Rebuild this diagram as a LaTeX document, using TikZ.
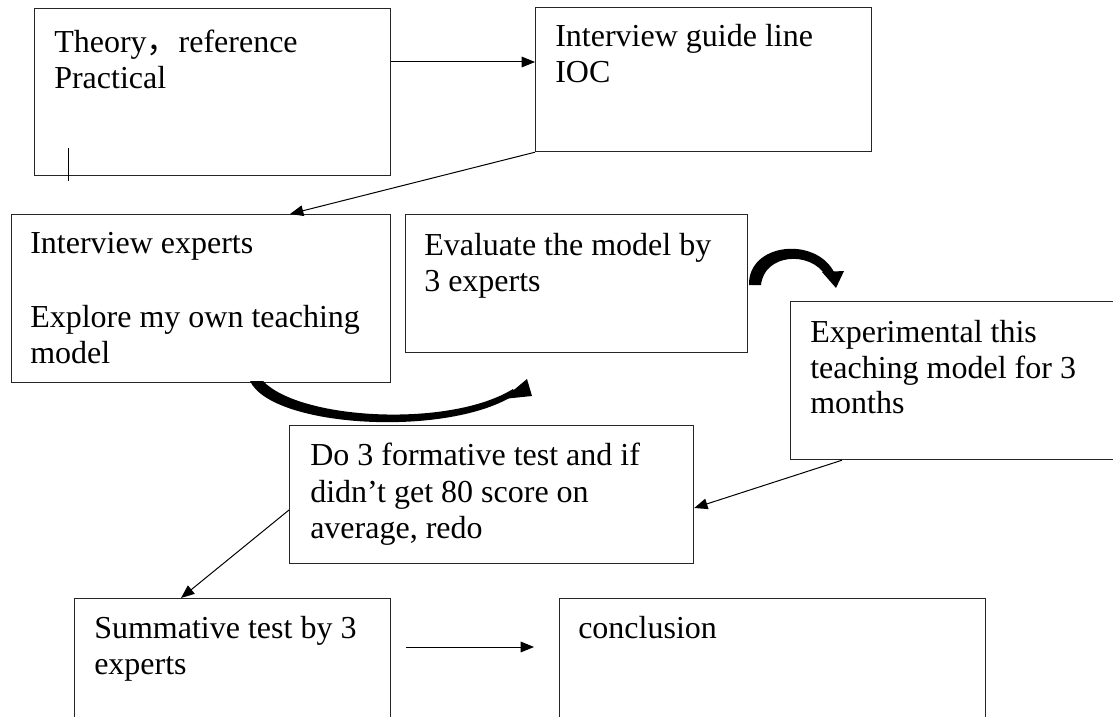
\documentclass[tikz,border=0pt]{standalone}
\usepackage{fontspec}
\setmainfont{Liberation Serif}
\newfontfamily\cjk{Noto Sans CJK SC}
\usetikzlibrary{arrows.meta}
\begin{document}
\begin{tikzpicture}[x=0.75pt,y=-0.75pt,
  box/.style 2 args={draw=black!85, line width=0.9pt, rectangle, inner sep=0pt, anchor=north west, minimum width=#1*0.75pt, minimum height=#2*0.75pt},
  txt/.style={anchor=base west, inner sep=0pt, font=\fontsize{24}{27}\selectfont},
  conn/.style={draw=black, line width=0.75pt, -{Triangle[length=10pt,width=8pt]}},
  bigarrow/.style={fill=black}]
\useasboundingbox (0,0) rectangle (1113,717);
\fill[white] (0,0) rectangle (1113,717);
\clip (0,0) rectangle (1113,717);

% boxes
\node[box={356}{167}] (b1) at (34,8) {};
\node[box={336}{144}] (b2) at (535,7) {};
\node[box={379}{168}] (b3) at (11,214) {};
\node[box={342}{138}] (b4) at (405,214) {};
\node[box={400}{158}] (b5) at (790,301) {};
\node[box={404}{138}] (b6) at (289,425) {};
\node[box={316}{160}] (b7) at (74,598) {};
\node[box={426}{160}] (b8) at (559,598) {};

% texts
\node[txt] (t1a) at (54,53) {Theory{\cjk ，}reference};
\node[txt] (t1b) at (54,89) {Practical};
\node[txt] (t2a) at (555,47) {Interview guide line};
\node[txt] (t2b) at (555,83) {IOC};
\node[txt] (t3a) at (30,253) {Interview experts};
\node[txt] (t3b) at (30,327) {Explore my own teaching};
\node[txt] (t3c) at (30,363) {model};
\node[txt] (t4a) at (424,255) {Evaluate the model by};
\node[txt] (t4b) at (424,291) {3 experts};
\node[txt] (t5a) at (810,342) {Experimental this};
\node[txt] (t5b) at (810,378) {teaching model for 3};
\node[txt] (t5c) at (810,413) {months};
\node[txt] (t6a) at (310,465) {Do 3 formative test and if};
\node[txt] (t6b) at (310,502) {didn’t get 80 score on};
\node[txt] (t6c) at (310,538) {average, redo};
\node[txt] (t7a) at (94,638) {Summative test by 3};
\node[txt] (t7b) at (94,674) {experts};
\node[txt] (t8a) at (578,638) {conclusion};

% small mark in first box
\draw[line width=0.75pt] (68,148) -- (68,181);

% connectors
\coordinate (y1) at (0,62);
\draw[conn] (b1.east |- y1) -- (b2.west |- y1);
\coordinate (x3) at (290,0);
\draw[conn] (b2.south west) -- (b3.north -| x3);
\coordinate (x5) at (842,0);
\coordinate (y6) at (0,508);
\draw[conn] (b5.south -| x5) -- (b6.east |- y6);
\coordinate (y6b) at (0,510);
\coordinate (x7) at (181,0);
\draw[conn] (b6.west |- y6b) -- (b7.north -| x7);
\coordinate (a7) at (406,647);
\coordinate (a8) at (534,647);
\draw[conn] (a7) -- (a8);

% thick curved arrow under box 3
\fill[bigarrow] (250,381) .. controls (272,428) and (450,438) .. (516,394)
  -- (513,389) .. controls (450,428) and (300,420) .. (263,381) -- cycle;
\fill[bigarrow] (503,399) -- (527,379) -- (532,396) -- cycle;

% thick curved arrow right of box 4
\fill[bigarrow] (749,285) .. controls (748,243) and (815,236) .. (834,272)
  -- (826,276) .. controls (810,250) and (764,254) .. (761,285) -- cycle;
\fill[bigarrow] (822,272) -- (844,271) -- (836,288) -- cycle;
\end{tikzpicture}
\end{document}
